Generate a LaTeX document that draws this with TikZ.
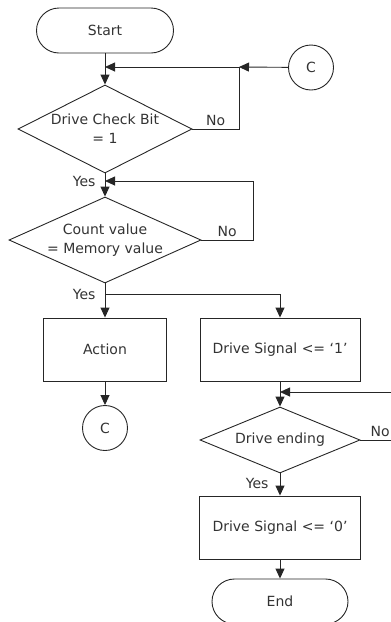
\documentclass[tikz,border=0pt]{standalone}
\usepackage{fontspec}
\setmainfont{DejaVu Sans}
\usetikzlibrary{shapes.geometric,arrows.meta}

\begin{document}
\begin{tikzpicture}[x=1pt,y=-1pt,
  every node/.style={font=\fontsize{14}{19}\selectfont, text=black!80},
  line/.style={draw=black!85, line width=0.9pt},
  arr/.style={line, -{Triangle[length=10pt,width=9pt]}},
  term/.style={line, rectangle, rounded corners=22.5pt, minimum width=137pt, minimum height=45pt},
  proc/.style={line, rectangle, minimum height=63pt},
  dec/.style={line, diamond, inner sep=0pt},
  conn/.style={line, circle, minimum size=45pt, inner sep=0pt}]
\useasboundingbox (0,0) rectangle (391,622);
\clip (0,0) rectangle (391,622);
\node[term] (start) at (105,30.5) {Start};
\node[conn] (c1) at (311,67.5) {C};
\node[dec, minimum width=174pt, minimum height=88pt] (d1) at (105,129) {};
\node[align=center] (t1) at (d1) {Drive Check Bit\\= 1};
\node[dec, minimum width=192pt, minimum height=86pt] (d2) at (105,240) {};
\node[align=center] (t2) at (d2) {Count value\\= Memory value};
\node[proc, minimum width=123pt] (act) at (105,349.5) {Action};
\node[proc, minimum width=160pt] (sig1) at (280,349.5) {Drive Signal <= ‘1’};
\node[conn] (c2) at (105,428) {C};
\node[dec, minimum width=160pt, minimum height=66pt] (d3) at (280,440) {};
\node (t3) at (d3) {Drive ending};
\node[proc, minimum width=161pt] (sig0) at (280,527.5) {Drive Signal <= ‘0’};
\node[term, minimum width=136pt] (stop) at (280,601.5) {End};
\coordinate (m1) at (105,67);
\coordinate (j1) at (239,67);
\coordinate (m2) at (105,181);
\coordinate (j2) at (253,181);
\coordinate (b2) at (105,294);
\coordinate (m3) at (280,392);
\coordinate (j3) at (400,392);
\draw[arr] (start) -- (d1);
\draw[arr] (c1) -- (j1);
\draw[arr] (d1.east) -- node[above]{No} (d1.east -| j1) -- (j1) -- (m1);
\draw[arr] (d1) -- (d2);
\node[left=6pt] (yes1) at (m2) {Yes};
\draw[arr] (d2.east) -- node[above]{No} (d2.east -| j2) -- (j2) -- (m2);
\draw[arr] (d2) -- (act);
\node[left=6pt] (yes2) at (b2) {Yes};
\draw[arr] (b2) -| (sig1);
\draw[arr] (act) -- (c2);
\draw[arr] (sig1) -- (d3);
\draw[arr] (d3.east) -- node[above]{No} (d3.east -| j3) -- (j3) -- (m3);
\draw[arr] (d3) -- (sig0);
\node[left=8pt] (yes3) at (280,483) {Yes};
\draw[arr] (sig0) -- (stop);
%\draw[line] (j3) -- (400,440);
\end{tikzpicture}
\end{document}
